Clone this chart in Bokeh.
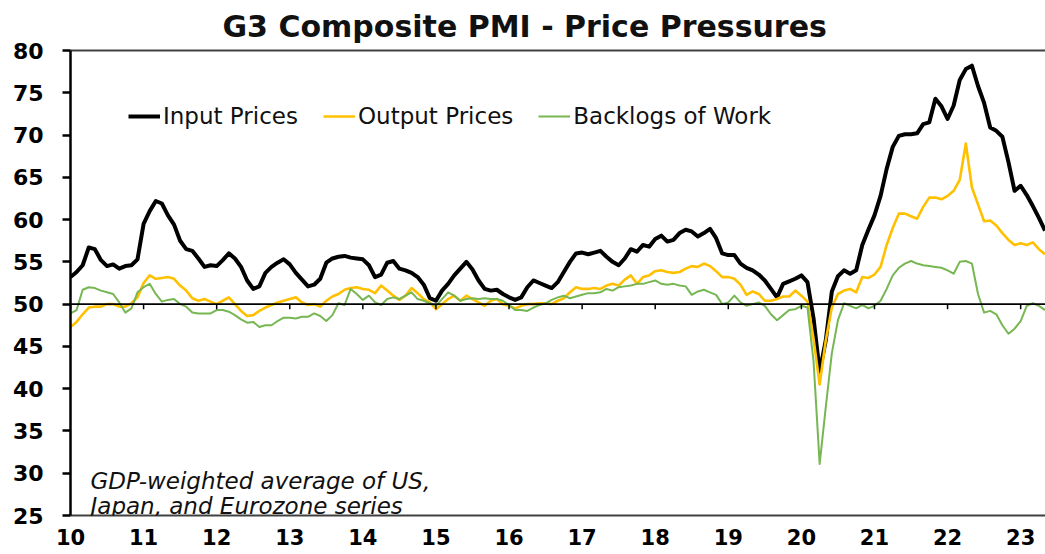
import pandas as pd
from bokeh.plotting import figure
from bokeh.models import (FixedTicker, LinearAxis, Span, Legend, LegendItem,
                          Label, Range1d)
from bokeh.embed import file_html
from bokeh.resources import INLINE

# ---------------- data (monthly, Jan 2010 - May 2023) ----------------
months = pd.date_range("2010-01-01", periods=161, freq="MS")
x_years = list(months.year + (months.month - 1) / 12)

input_prices = [
    53.2, 53.8, 54.6, 56.7, 56.5, 55.2, 54.5, 54.7, 54.2, 54.5, 54.6, 55.3,  # 2010
    59.5, 61.0, 62.2, 61.9, 60.5, 59.4, 57.5, 56.5, 56.3, 55.4, 54.4, 54.6,  # 2011
    54.5, 55.2, 56.0, 55.4, 54.4, 52.8, 51.8, 52.1, 53.7, 54.4, 54.9, 55.3,  # 2012
    54.7, 53.7, 52.9, 52.1, 52.3, 53.0, 54.9, 55.4, 55.6, 55.7, 55.5, 55.4,  # 2013
    55.3, 54.6, 53.2, 53.5, 54.9, 55.1, 54.2, 54.0, 53.7, 53.2, 52.3, 50.7,  # 2014
    50.4, 51.6, 52.4, 53.4, 54.2, 55.0, 54.1, 52.8, 51.8, 51.6, 51.7, 51.2,  # 2015
    50.8, 50.5, 50.8, 52.0, 52.8, 52.5, 52.2, 51.9, 52.6, 53.8, 55.0, 56.0,  # 2016
    56.1, 55.9, 56.1, 56.3, 55.6, 55.0, 54.6, 55.4, 56.5, 56.2, 57.0, 56.8,  # 2017
    57.7, 58.1, 57.4, 57.6, 58.4, 58.8, 58.6, 58.0, 58.4, 58.9, 57.8, 56.0,  # 2018
    55.8, 55.8, 54.8, 54.3, 54.0, 53.5, 52.8, 51.8, 50.8, 52.4, 52.7, 53.0,  # 2019
    53.4, 52.6, 48.3, 42.0, 45.7, 51.5, 53.3, 54.0, 53.6, 54.0, 57.0, 58.8,  # 2020
    60.5, 62.8, 66.0, 68.6, 69.9, 70.1, 70.1, 70.2, 71.3, 71.5, 74.3, 73.4,  # 2021
    71.9, 73.5, 76.5, 77.8, 78.2, 75.8, 73.8, 70.9, 70.5, 69.8, 66.8, 63.4,  # 2022
    64.0, 62.9, 61.6, 60.2, 58.7,                                            # 2023
]

output_prices = [
    47.3, 47.9, 48.8, 49.6, 49.7, 49.7, 50.0, 50.0, 49.7, 49.7, 50.1, 50.8,  # 2010
    52.5, 53.4, 53.0, 53.1, 53.2, 53.0, 52.2, 51.6, 50.7, 50.4, 50.6, 50.3,  # 2011
    50.0, 50.4, 50.8, 50.0, 49.2, 48.6, 48.7, 49.2, 49.6, 49.9, 50.2, 50.4,  # 2012
    50.6, 50.8, 50.2, 49.9, 50.0, 49.7, 50.4, 50.9, 51.2, 51.7, 51.9, 52.0,  # 2013
    51.8, 51.7, 51.3, 52.2, 51.6, 51.0, 50.5, 51.0, 51.9, 51.3, 50.6, 50.2,  # 2014
    49.4, 50.0, 50.6, 51.0, 50.4, 51.0, 50.6, 50.2, 49.8, 50.4, 50.6, 50.0,  # 2015
    49.8, 49.5, 49.8, 50.0, 50.0, 50.1, 50.1, 50.0, 50.4, 50.7, 51.4, 52.0,  # 2016
    51.8, 51.8, 51.9, 51.8, 52.2, 52.4, 52.2, 52.9, 53.4, 52.4, 53.2, 53.4,  # 2017
    53.9, 54.0, 53.8, 53.7, 53.8, 54.2, 54.5, 54.4, 54.8, 54.5, 53.9, 53.2,  # 2018
    53.2, 53.0, 52.3, 51.1, 51.5, 51.2, 50.4, 50.4, 50.6, 50.9, 50.9, 51.6,  # 2019
    51.0, 50.3, 45.9, 40.5, 45.7, 49.6, 51.2, 51.6, 51.8, 51.4, 53.2, 53.1,  # 2020
    53.5, 54.4, 57.0, 59.0, 60.7, 60.7, 60.4, 60.1, 61.5, 62.6, 62.6, 62.4,  # 2021
    62.8, 63.4, 64.7, 69.0, 63.8, 61.8, 59.8, 59.9, 59.3, 58.4, 57.6, 57.0,  # 2022
    57.2, 57.0, 57.3, 56.5, 55.9,                                            # 2023
]

backlogs_of_work = [
    48.9, 49.3, 51.7, 52.0, 51.9, 51.6, 51.4, 51.2, 50.2, 49.0, 49.5, 51.4,  # 2010
    52.0, 52.4, 51.2, 50.3, 50.5, 50.6, 50.0, 49.7, 49.0, 48.9, 48.9, 48.9,  # 2011
    49.3, 49.3, 49.1, 48.7, 48.2, 47.8, 47.9, 47.3, 47.5, 47.5, 48.0, 48.4,  # 2012
    48.4, 48.3, 48.5, 48.5, 48.9, 48.6, 48.0, 48.7, 50.1, 49.9, 51.8, 51.2,  # 2013
    50.5, 51.0, 50.2, 49.9, 50.6, 50.8, 50.6, 51.0, 51.4, 50.6, 50.4, 50.1,  # 2014
    49.8, 50.6, 51.4, 51.0, 50.4, 50.6, 50.7, 50.6, 50.7, 50.6, 50.6, 50.4,  # 2015
    49.9, 49.3, 49.3, 49.2, 49.6, 49.9, 50.1, 50.5, 50.8, 51.0, 50.7, 50.9,  # 2016
    51.1, 51.3, 51.3, 51.4, 51.8, 51.6, 52.0, 52.1, 52.2, 52.4, 52.4, 52.6,  # 2017
    52.8, 52.4, 52.3, 52.4, 52.2, 52.1, 51.1, 51.5, 51.7, 51.4, 51.1, 50.0,  # 2018
    50.2, 51.0, 50.2, 49.8, 50.0, 50.2, 49.8, 48.8, 48.1, 48.7, 49.3, 49.4,  # 2019
    49.8, 49.6, 43.2, 31.1, 37.8, 44.2, 48.1, 50.1, 49.8, 49.5, 49.9, 49.5,  # 2020
    49.8, 50.4, 51.8, 53.4, 54.3, 54.8, 55.1, 54.8, 54.6, 54.5, 54.4, 54.3,  # 2021
    54.0, 53.6, 55.0, 55.1, 54.8, 51.2, 49.0, 49.2, 48.8, 47.5, 46.5, 47.1,  # 2022
    48.0, 49.8, 50.1, 49.8, 49.3,                                            # 2023
]

year_ticks = list(range(2010, 2024))
year_labels = ["10", "11", "12", "13", "14", "15", "16", "17", "18", "19",
               "20", "21", "22", "23"]
y_ticks = [25, 30, 35, 40, 45, 50, 55, 60, 65, 70, 75, 80]

series_names = ["Input Prices", "Output Prices", "Backlogs of Work"]
series_colors = ["#000000", "#FFC000", "#77B753"]
series_widths = [4, 2.6, 2]

# ---------------- figure ----------------
FONT = "DejaVu Sans"

p = figure(width=1045, height=554, output_backend="svg", toolbar_location=None,
           x_range=Range1d(2010, 2023.34), y_range=Range1d(25, 80),
           min_border_left=70, min_border_right=0, min_border_top=50,
           min_border_bottom=39, background_fill_color="white",
           border_fill_color="white", outline_line_color=None)

p.xgrid.visible = False
p.ygrid.visible = False

# title
p.title.text = "G3 Composite PMI - Price Pressures"
p.title.text_font = FONT
p.title.text_font_size = "30px"
p.title.text_font_style = "bold"
p.title.text_color = "#111111"
p.title.align = "left"
p.title.offset = 152
p.title.standoff = 13

# left axis
ya = p.yaxis[0]
ya.ticker = FixedTicker(ticks=y_ticks)
ya.axis_line_color = "black"
ya.axis_line_width = 2.5
ya.major_tick_line_color = "black"
ya.major_tick_line_width = 2.5
ya.major_tick_out = 8
ya.major_tick_in = 0
ya.minor_tick_line_color = None
ya.major_label_text_font = FONT
ya.major_label_text_font_style = "bold"
ya.major_label_text_font_size = "22px"
ya.major_label_text_color = "black"
ya.major_label_standoff = 19

# bottom axis (labels only)
xa = p.xaxis[0]
xa.ticker = FixedTicker(ticks=year_ticks)
xa.major_label_overrides = {t: l for t, l in zip(year_ticks, year_labels)}
xa.axis_line_color = "#404040"
xa.axis_line_width = 2
xa.major_tick_line_color = None
xa.minor_tick_line_color = None
xa.major_tick_out = 0
xa.major_tick_in = 0
xa.major_label_text_font = FONT
xa.major_label_text_font_style = "bold"
xa.major_label_text_font_size = "21px"
xa.major_label_text_color = "black"
xa.major_label_standoff = 13

# top border line
top_axis = LinearAxis(ticker=FixedTicker(ticks=[]), axis_line_color="#404040",
                      axis_line_width=2, major_tick_line_color=None,
                      minor_tick_line_color=None,
                      major_label_text_font_size="0px")
p.add_layout(top_axis, "above")

# series
renderers = []
for vals, col, lw in zip([input_prices, output_prices, backlogs_of_work],
                         series_colors, series_widths):
    r = p.line(x_years, vals, line_color=col, line_width=lw,
               line_join="round")
    renderers.append(r)

# 50 reference line with small year ticks
p.add_layout(Span(location=50, dimension="width", line_color="black",
                  line_width=1.6))
p.segment(x0=year_ticks, y0=[50] * len(year_ticks), x1=year_ticks,
          y1=[49.4] * len(year_ticks), line_color="black", line_width=1.5)

# legend
legend = Legend(items=[LegendItem(label=n, renderers=[r])
                       for n, r in zip(series_names, renderers)],
                orientation="horizontal", location=(58, 386),
                border_line_color=None, background_fill_alpha=0,
                label_text_font=FONT, label_text_font_size="23px",
                label_text_color="#111111", glyph_width=32, label_standoff=3,
                spacing=25, padding=0, margin=0)
p.add_layout(legend)

# note
for txt, yy in [("GDP-weighted average of US,", 35),
                ("Japan, and Eurozone series", 10)]:
    p.add_layout(Label(x=20, y=yy, x_units="screen", y_units="screen",
                       text=txt, text_font=FONT, text_font_style="italic",
                       text_font_size="23px", text_color="#111111",
                       text_baseline="alphabetic"))

open("out.html", "w").write(file_html(p, INLINE))
